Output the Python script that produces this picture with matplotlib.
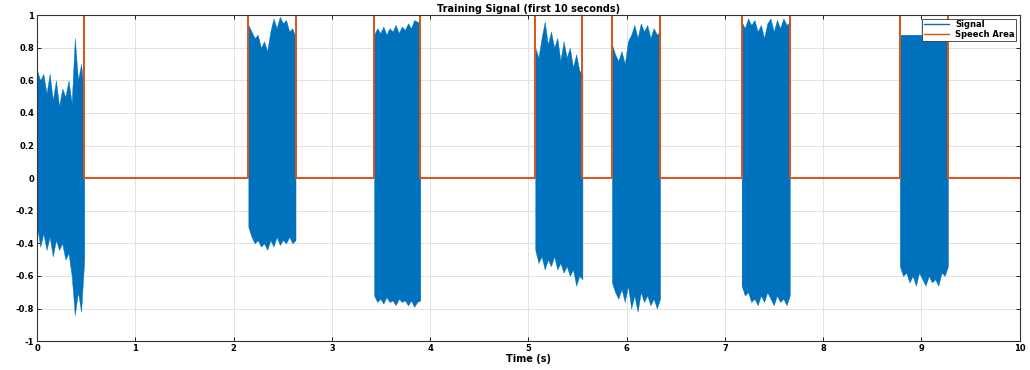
import numpy as np
import matplotlib.pyplot as plt
from matplotlib.lines import Line2D

# speech segments (start, end) in seconds
seg_start = [0.00, 2.15, 3.43, 5.07, 5.85, 7.17, 8.78]
seg_end = [0.48, 2.63, 3.90, 5.55, 6.34, 7.66, 9.27]

# signal envelope, evenly spaced inside each segment
upper = [
    [0.66, 0.60, 0.64, 0.52, 0.64, 0.48, 0.60, 0.44, 0.55, 0.50, 0.60, 0.46, 0.86, 0.60, 0.70, 0.52],
    [0.94, 0.90, 0.86, 0.88, 0.80, 0.84, 0.78, 0.90, 0.98, 0.92, 0.99, 0.95, 0.97, 0.90, 0.92, 0.86],
    [0.88, 0.92, 0.89, 0.93, 0.88, 0.92, 0.90, 0.94, 0.89, 0.93, 0.91, 0.95, 0.92, 0.97, 0.96, 0.95],
    [0.80, 0.74, 0.86, 0.96, 0.82, 0.90, 0.80, 0.86, 0.72, 0.84, 0.74, 0.80, 0.68, 0.76, 0.66, 0.64],
    [0.82, 0.76, 0.72, 0.78, 0.70, 0.84, 0.88, 0.94, 0.86, 0.95, 0.90, 0.94, 0.86, 0.92, 0.88, 0.90],
    [0.96, 0.92, 0.98, 0.94, 0.97, 0.90, 0.94, 0.86, 0.95, 0.98, 0.90, 0.97, 0.92, 0.98, 0.94, 0.96],
    [0.88, 0.88, 0.88, 0.88, 0.88, 0.88, 0.88, 0.88, 0.88, 0.88, 0.88, 0.88, 0.88, 0.88, 0.88, 0.88],
]
lower = [
    [-0.30, -0.42, -0.34, -0.44, -0.36, -0.48, -0.38, -0.44, -0.40, -0.50, -0.46, -0.60, -0.84, -0.70, -0.82, -0.50],
    [-0.30, -0.36, -0.40, -0.38, -0.42, -0.40, -0.44, -0.38, -0.42, -0.36, -0.41, -0.38, -0.40, -0.36, -0.40, -0.38],
    [-0.72, -0.76, -0.74, -0.77, -0.73, -0.76, -0.75, -0.78, -0.74, -0.76, -0.75, -0.78, -0.75, -0.79, -0.76, -0.75],
    [-0.44, -0.52, -0.48, -0.56, -0.50, -0.54, -0.48, -0.56, -0.52, -0.58, -0.54, -0.60, -0.56, -0.66, -0.60, -0.62],
    [-0.64, -0.70, -0.74, -0.68, -0.76, -0.66, -0.80, -0.72, -0.82, -0.70, -0.76, -0.72, -0.78, -0.74, -0.80, -0.74],
    [-0.66, -0.72, -0.70, -0.76, -0.74, -0.78, -0.72, -0.76, -0.70, -0.74, -0.78, -0.72, -0.76, -0.74, -0.78, -0.72],
    [-0.54, -0.60, -0.58, -0.64, -0.60, -0.66, -0.58, -0.62, -0.66, -0.60, -0.64, -0.62, -0.66, -0.58, -0.60, -0.54],
]

# speech area mask, step curve 0 / 1
speech_t = []
speech_v = []
for s, e in zip(seg_start, seg_end):
    speech_t += [s, s, e, e]
    speech_v += [0, 1, 1, 0]
speech_t += [10.0]
speech_v += [0]

x_ticks = list(range(0, 11))
x_labels = [str(v) for v in x_ticks]
y_ticks = [-1, -0.8, -0.6, -0.4, -0.2, 0, 0.2, 0.4, 0.6, 0.8, 1]
y_labels = ["-1", "-0.8", "-0.6", "-0.4", "-0.2", "0", "0.2", "0.4", "0.6", "0.8", "1"]

blue = "#0072BD"
red = "#D95319"

fig = plt.figure(figsize=(10.3, 3.7), dpi=100)
ax = fig.add_axes([0.036, 0.078, 0.954, 0.881])

for s, e, up, lo in zip(seg_start, seg_end, upper, lower):
    t = np.linspace(s, e, len(up))
    ax.fill_between(t, lo, up, color=blue, linewidth=0.3, edgecolor=blue)

ax.plot(speech_t, speech_v, color=red, linewidth=1.4)

ax.set_xlim(0, 10)
ax.set_ylim(-1, 1)
ax.set_xticks(x_ticks)
ax.set_xticklabels(x_labels, fontsize=6, fontweight="bold")
ax.set_yticks(y_ticks)
ax.set_yticklabels(y_labels, fontsize=6, fontweight="bold")
ax.tick_params(direction="in", top=True, right=True, length=3, width=0.6, pad=2)
ax.grid(True, color="#dddddd", linewidth=0.6)
ax.set_axisbelow(True)
for sp in ax.spines.values():
    sp.set_linewidth(0.8)
    sp.set_color("#333333")

ax.set_title("Training Signal (first 10 seconds)", fontsize=7, fontweight="bold", pad=2)
ax.set_xlabel("Time (s)", fontsize=7, fontweight="bold", labelpad=1)

handles = [Line2D([0], [0], color=blue, linewidth=1),
           Line2D([0], [0], color=red, linewidth=1)]
leg = ax.legend(handles, ["Signal", "Speech Area"], loc="upper right",
                prop={"weight": "bold", "size": 6},
                borderaxespad=0.4, handlelength=3, fancybox=False,
                framealpha=1, edgecolor="#333333", borderpad=0.2,
                labelspacing=0.1)
leg.get_frame().set_linewidth(0.6)

fig.savefig("out.png", dpi=100)
